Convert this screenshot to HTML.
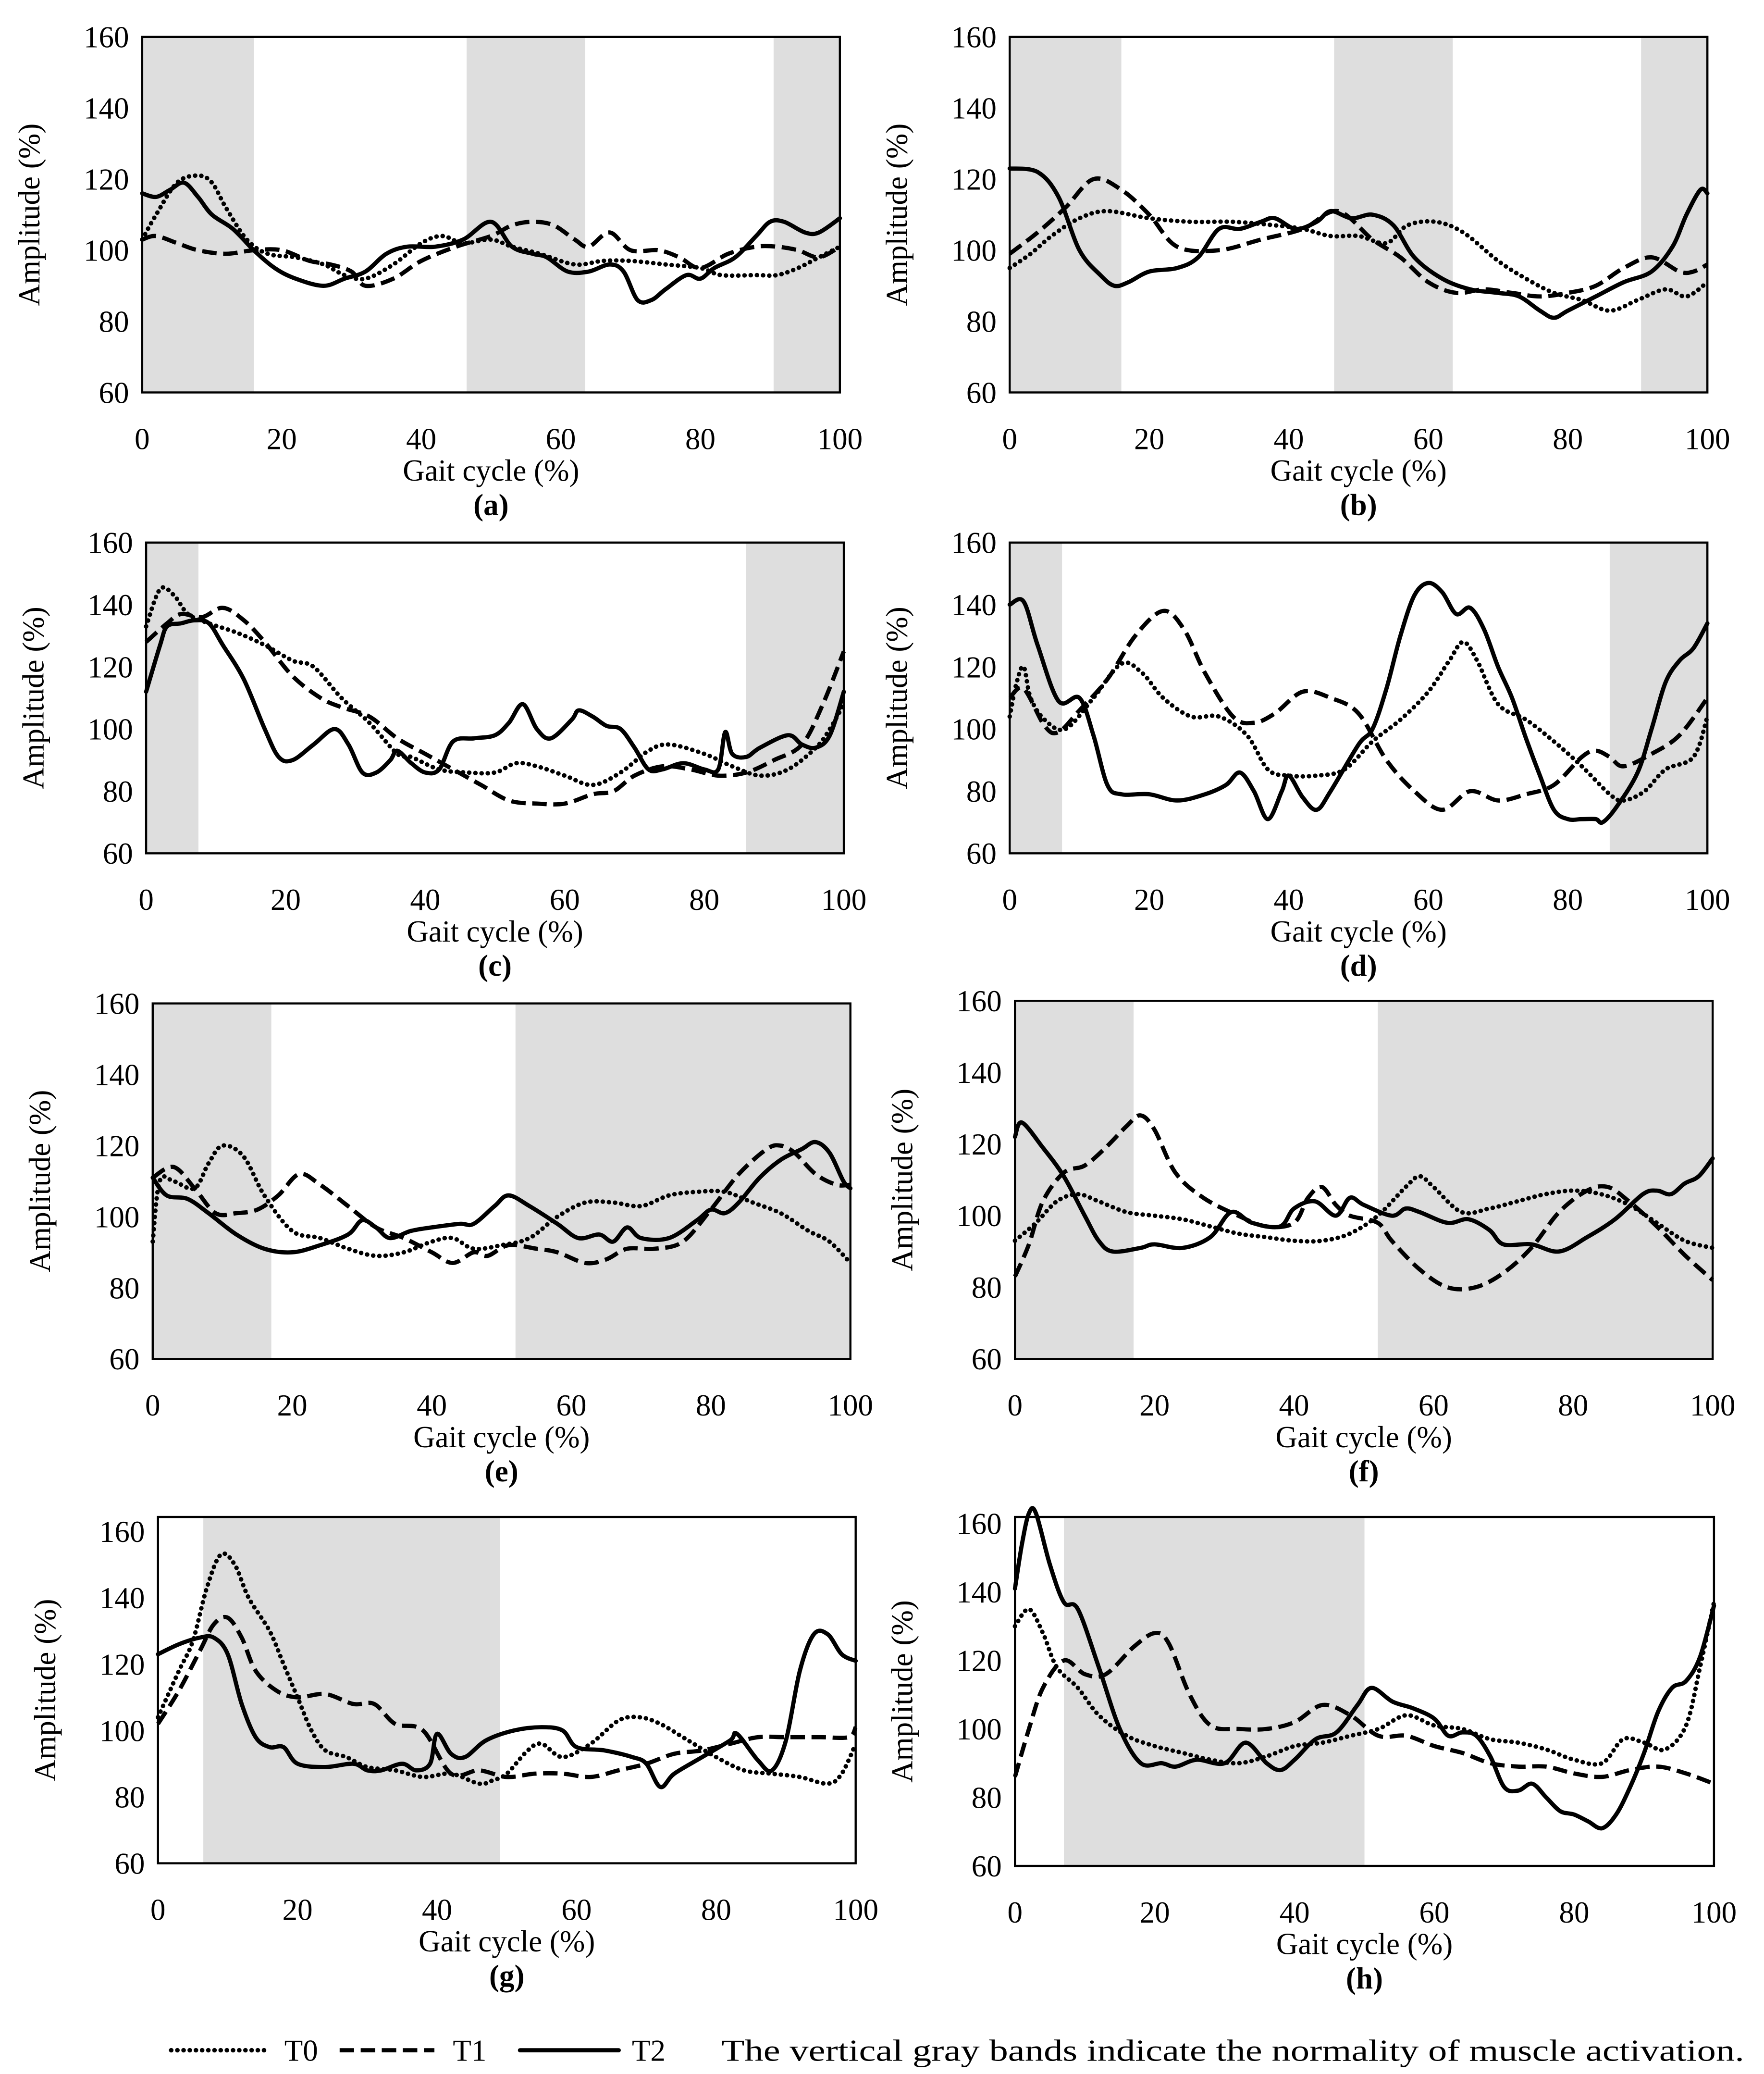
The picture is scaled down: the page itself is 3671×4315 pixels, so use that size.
<!DOCTYPE html>
<html><head><meta charset="utf-8">
<style>
html,body{margin:0;padding:0;background:#fff;}
svg{display:block;}
text{font-family:"Liberation Serif",serif;fill:#000;}
</style></head>
<body>
<svg id="fig" width="3671" height="4315" viewBox="0 0 1340 1575" xmlns="http://www.w3.org/2000/svg"></svg>
<script>
// ---- data ----
const xTicks = [0,20,40,60,80,100];
const yTicks = [60,80,100,120,140,160];
const panelLabels = ["(a)","(b)","(c)","(d)","(e)","(f)","(g)","(h)"];
const bandsA = [[0,16],[46.5,63.5],[90.5,100]];
const bandsB = [[0,16],[46.5,63.5],[90.5,100]];
const bandsC = [[0,7.5],[86,100]];
const bandsD = [[0,7.5],[86,100]];
const bandsE = [[0,17],[52,100]];
const bandsF = [[0,17],[52,100]];
const bandsG = [[6.5,49]];
const bandsH = [[7,50]];

const a_T0 = [[0,103],[2,110],[5,119],[8,121],[10,119],[12,112],[15,103],[18,99],[22,98],[26,96],[29,93],[32,92],[36,96],[40,102],[43,104],[46,102],[50,103],[53,101],[57,99],[62,96],[66,97],[70,97],[75,96],[80,95],[83,93],[88,93],[91,93],[94,95],[97,98],[100,101]];
const a_T1 = [[0,103],[2,104],[5,102],[8,100],[12,99],[16,100],[20,100],[24,97],[27,96],[30,94],[32,90],[36,92],[40,97],[45,101],[50,104],[53,107],[56,108],[59,107],[62,103],[64,101],[67,105],[70,100],[74,100],[77,98],[80,95],[84,99],[88,101],[91,101],[94,100],[97,98],[100,101]];
const a_T2 = [[0,116],[2,115],[4,117],[6,119],[8,115],[10,110],[13,106],[16,100],[19,95],[22,92],[26,90],[29,92],[32,94],[35,99],[38,101],[42,101],[46,103],[50,108],[53,101],[56,99],[58,98],[61,94],[64,94],[67,96],[69,94],[71,86],[73,86],[75,89],[78,93],[80,92],[82,95],[85,98],[88,104],[90,108],[92,108],[95,105],[97,105],[100,109]];

const b_T0 = [[0,95],[3,99],[6,104],[10,109],[14,111],[20,109],[26,108],[32,108],[38,107],[42,106],[46,104],[50,104],[54,102],[57,107],[61,108],[65,105],[70,97],[74,92],[78,88],[82,86],[86,83],[90,86],[94,89],[97,87],[100,91]];
const b_T1 = [[0,99],[4,105],[8,112],[12,120],[16,117],[20,110],[24,101],[30,100],[36,103],[42,106],[47,111],[52,103],[56,98],[60,91],[64,88],[68,89],[72,88],[76,87],[80,88],[84,90],[88,95],[92,98],[96,94],[98,94],[100,96]];
const b_T2 = [[0,123],[4,122],[7,115],[10,100],[13,93],[15,90],[17,91],[20,94],[24,95],[27,98],[30,106],[33,106],[36,108],[38,109],[41,106],[44,108],[46,111],[49,109],[52,110],[55,107],[58,98],[62,92],[66,89],[70,88],[73,87],[76,83],[78,81],[80,83],[84,87],[88,91],[92,94],[95,101],[97,110],[99,117],[100,116]];

const c_T0 = [[0,133],[2,145],[4,143],[6,137],[9,134],[13,131],[17,127],[21,122],[24,120],[28,110],[32,102],[36,92],[38,91],[42,87],[46,86],[50,86],[53,89],[56,88],[60,85],[64,82],[68,86],[72,93],[75,95],[80,92],[84,88],[88,85],[92,87],[96,94],[98,100],[100,108]];
const c_T1 = [[0,128],[3,134],[5,137],[8,136],[11,139],[14,135],[17,128],[21,117],[25,110],[28,107],[32,104],[36,97],[40,92],[44,87],[48,82],[52,77],[56,76],[60,76],[64,79],[67,80],[70,85],[74,88],[78,87],[82,85],[86,86],[90,90],[94,95],[97,108],[100,125]];
const c_T2 = [[0,112],[2,127],[3,133],[5,134],[7,135],[9,134],[11,127],[14,116],[17,100],[19,91],[21,90],[24,95],[27,100],[29,95],[31,86],[33,86],[35,90],[36,93],[38,89],[40,86],[42,87],[44,96],[47,97],[50,98],[52,102],[54,108],[56,100],[58,97],[61,103],[62,106],[64,104],[66,101],[68,100],[70,94],[72,87],[74,87],[77,89],[80,87],[82,87],[83,99],[84,92],[86,91],[88,94],[92,98],[94,95],[96,94],[98,98],[100,112]];

const d_T0 = [[0,104],[1,115],[2,120],[3,110],[5,103],[8,100],[12,110],[16,121],[19,118],[22,110],[26,104],[30,104],[34,98],[37,87],[40,85],[44,85],[48,87],[52,96],[56,103],[60,112],[63,122],[65,128],[67,122],[70,108],[74,103],[78,96],[82,88],[86,79],[88,77],[91,80],[94,87],[98,91],[100,104]];
const d_T1 = [[0,110],[2,113],[5,101],[7,99],[10,106],[14,116],[18,130],[22,138],[25,132],[28,118],[32,104],[35,102],[38,105],[42,112],[46,110],[50,105],[54,90],[58,80],[62,74],[66,80],[70,77],[74,79],[78,82],[82,91],[84,93],[86,91],[88,88],[92,92],[96,98],[100,110]];
const d_T2 = [[0,140],[2,141],[4,127],[7,109],[10,110],[12,98],[14,82],[16,79],[20,79],[24,77],[28,79],[31,82],[33,86],[35,80],[37,71],[39,80],[40,85],[42,78],[44,74],[46,80],[50,95],[52,100],[54,113],[56,130],[58,143],[60,147],[62,144],[64,137],[66,139],[68,132],[70,120],[72,110],[74,97],[76,85],[78,74],[80,71],[82,71],[84,71],[85,70],[87,75],[90,86],[92,100],[94,115],[96,122],[98,126],[100,134]];

const e_T0 = [[0,93],[1,110],[3,110],[6,108],[8,115],[10,120],[13,117],[16,106],[20,96],[24,94],[28,91],[32,89],[36,90],[40,93],[43,94],[46,91],[50,92],[54,94],[58,100],[62,104],[66,104],[70,103],[74,106],[78,107],[82,107],[86,104],[90,101],[94,96],[97,93],[100,87]];
const e_T1 = [[0,111],[3,114],[6,108],[9,101],[12,101],[15,102],[18,106],[21,112],[24,109],[28,103],[32,97],[36,94],[40,90],[43,87],[46,90],[48,89],[51,92],[55,91],[58,90],[62,87],[65,88],[68,91],[72,91],[76,93],[80,102],[84,112],[88,119],[90,120],[92,118],[95,112],[98,109],[100,109]];
const e_T2 = [[0,111],[2,106],[5,105],[8,101],[12,95],[16,91],[20,90],[24,92],[28,95],[30,99],[32,97],[34,94],[37,96],[40,97],[44,98],[46,98],[49,103],[51,106],[54,103],[58,98],[61,94],[64,95],[66,93],[68,97],[70,94],[74,94],[78,99],[80,102],[82,101],[84,104],[87,111],[90,116],[93,119],[95,121],[97,118],[99,110],[100,108]];

const f_T0 = [[0,93],[3,98],[6,104],[9,106],[12,104],[16,101],[20,100],[24,99],[28,97],[32,95],[36,94],[40,93],[44,93],[48,95],[52,100],[56,108],[58,111],[60,108],[64,101],[68,102],[72,104],[76,106],[80,107],[84,106],[88,103],[92,98],[96,93],[100,91]];
const f_T1 = [[0,83],[2,92],[4,104],[7,112],[10,114],[13,119],[16,125],[18,128],[20,124],[23,112],[27,105],[32,100],[36,97],[40,98],[42,105],[44,108],[46,103],[48,100],[52,98],[54,93],[58,85],[62,80],[66,80],[70,84],[74,91],[78,101],[82,107],[85,108],[88,104],[92,97],[96,89],[100,82]];
const f_T2 = [[0,122],[1,126],[4,119],[7,111],[10,100],[12,93],[14,90],[18,91],[20,92],[24,91],[28,94],[31,101],[34,98],[38,97],[40,102],[43,104],[46,100],[48,105],[50,103],[54,100],[56,102],[58,101],[62,98],[65,99],[68,96],[70,92],[74,92],[78,90],[82,94],[86,99],[90,106],[92,107],[94,106],[96,109],[98,111],[100,116]];

const g_T0 = [[0,104],[3,118],[5,127],[7,143],[9,153],[11,150],[13,140],[16,130],[18,120],[20,110],[22,100],[24,94],[27,92],[30,89],[34,88],[38,86],[42,87],[46,84],[48,85],[50,87],[53,94],[55,96],[58,92],[62,96],[66,103],[69,104],[72,102],[76,97],[80,92],[84,88],[88,87],[92,86],[96,84],[98,87],[100,96]];
const g_T1 = [[0,102],[3,112],[6,124],[8,132],[10,134],[12,128],[14,118],[17,112],[20,110],[24,111],[28,108],[31,108],[34,102],[38,100],[42,87],[46,88],[50,86],[54,87],[58,87],[62,86],[66,88],[70,90],[74,93],[78,94],[82,96],[86,98],[90,98],[95,98],[99,98],[100,101]];
const g_T2 = [[0,123],[3,126],[6,128],[8,128],[10,123],[12,108],[14,98],[16,95],[18,95],[20,90],[24,89],[28,90],[30,88],[32,88],[35,90],[37,88],[39,90],[40,99],[42,93],[44,92],[47,97],[51,100],[55,101],[58,100],[60,95],[64,94],[68,92],[70,90],[72,83],[74,87],[78,92],[82,97],[83,99],[86,91],[88,88],[90,97],[92,118],[94,129],[96,129],[98,123],[100,121]];

const h_T0 = [[0,130],[2,135],[4,128],[6,118],[9,112],[12,104],[16,98],[20,95],[24,93],[28,91],[32,90],[36,92],[40,95],[44,96],[48,98],[52,100],[56,104],[60,101],[64,100],[68,97],[72,96],[76,94],[80,91],[84,90],[87,97],[90,96],[93,94],[96,101],[98,118],[100,137]];
const h_T1 = [[0,86],[2,100],[4,112],[7,120],[10,116],[13,116],[17,124],[20,128],[22,125],[25,110],[28,101],[32,100],[36,100],[40,102],[44,107],[48,104],[52,98],[56,98],[60,95],[64,93],[68,90],[72,89],[76,89],[80,87],[84,86],[88,88],[92,89],[96,87],[100,84]];
const h_T2 = [[0,141],[1,154],[2,163],[3,163],[5,148],[7,137],[9,135],[12,118],[15,100],[18,90],[21,90],[23,89],[26,91],[30,90],[33,96],[36,90],[38,88],[40,91],[43,97],[46,99],[49,107],[51,112],[54,108],[57,106],[60,103],[62,98],[64,99],[66,98],[68,92],[70,83],[72,82],[74,84],[76,80],[78,76],[80,75],[82,73],[84,71],[86,75],[88,83],[90,93],[92,105],[94,112],[96,114],[98,121],[100,136]];

// ---- layout ----
const panels = [
 {L:108,R:638,T:28,y160:28,y60:298,bands:bandsA,s:[a_T0,a_T1,a_T2]},
 {L:767,R:1297,T:28,y160:28,y60:298,bands:bandsB,s:[b_T0,b_T1,b_T2]},
 {L:111,R:641,T:412,y160:412,y60:648,bands:bandsC,s:[c_T0,c_T1,c_T2]},
 {L:767,R:1297,T:412,y160:412,y60:648,bands:bandsD,s:[d_T0,d_T1,d_T2]},
 {L:116,R:646,T:762,y160:762,y60:1032,bands:bandsE,s:[e_T0,e_T1,e_T2]},
 {L:771,R:1301,T:760,y160:760,y60:1032,bands:bandsF,s:[f_T0,f_T1,f_T2]},
 {L:120,R:650,T:1152,y160:1163,y60:1415,bands:bandsG,s:[g_T0,g_T1,g_T2]},
 {L:771,R:1302,T:1152,y160:1157,y60:1417,bands:bandsH,s:[h_T0,h_T1,h_T2]}
];
const styles = [
 {dash:"0.1 4.6",cap:"round",w:3.4,name:"t0"},
 {dash:"11 5",cap:"butt",w:3.2,name:"t1"},
 {dash:"",cap:"round",w:3.2,name:"t2"}
];
const NS="http://www.w3.org/2000/svg";
const svg=document.getElementById('fig');
function mk(tag,attrs,parent){const e=document.createElementNS(NS,tag);for(const k in attrs)e.setAttribute(k,attrs[k]);(parent||svg).appendChild(e);return e;}
function smooth(p){let d="M"+p[0][0].toFixed(2)+","+p[0][1].toFixed(2);
 for(let i=0;i<p.length-1;i++){const p0=p[i-1]||p[i],p1=p[i],p2=p[i+1],p3=p[i+2]||p2;
  const c1x=p1[0]+(p2[0]-p0[0])/6,c1y=p1[1]+(p2[1]-p0[1])/6,c2x=p2[0]-(p3[0]-p1[0])/6,c2y=p2[1]-(p3[1]-p1[1])/6;
  d+=" C"+c1x.toFixed(2)+","+c1y.toFixed(2)+" "+c2x.toFixed(2)+","+c2y.toFixed(2)+" "+p2[0].toFixed(2)+","+p2[1].toFixed(2);}
 return d;}

panels.forEach((P,pi)=>{
 const g=mk('g',{});
 
 
 const xs=v=>P.L+(P.R-P.L)*v/100;
 const ys=v=>P.y60-(P.y60-P.y160)*(v-60)/100;
 P.bands.forEach(b=>{const r=mk('rect',{x:xs(b[0]),y:P.T,width:xs(b[1])-xs(b[0]),height:P.y60-P.T,fill:'#dedede'},g);
  
  });
 P.s.forEach((ser,si)=>{const st=styles[si];
  const pts=ser.map(q=>[xs(q[0]),ys(q[1])]);
  const path=mk('path',{d:smooth(pts),fill:'none',stroke:'#000','stroke-width':st.w,'stroke-linecap':st.cap,'stroke-linejoin':'round','stroke-dasharray':st.dash},g);
  
  });
 const box=mk('rect',{x:P.L,y:P.T,width:P.R-P.L,height:P.y60-P.T,fill:'none',stroke:'#000','stroke-width':1.6},g);
 
 
 yTicks.forEach(v=>{const t=mk('text',{x:P.L-10,y:ys(v)+8,'text-anchor':'end','font-size':23},g);t.textContent=v;
  
  });
 xTicks.forEach(v=>{const t=mk('text',{x:xs(v),y:P.y60+43,'text-anchor':'middle','font-size':23},g);t.textContent=v;
  
  });
 const cy=(P.T+P.y60)/2;
 const yt=mk('text',{x:0,y:0,transform:`translate(${P.L-78},${cy}) rotate(-90)`,'text-anchor':'middle','font-size':23},g);yt.textContent='Amplitude (%)';
 
 
 const xt=mk('text',{x:(P.L+P.R)/2,y:P.y60+67,'text-anchor':'middle','font-size':23},g);xt.textContent='Gait cycle (%)';
 
 
 const cap=mk('text',{x:(P.L+P.R)/2,y:P.y60+93,'text-anchor':'middle','font-size':23,'font-weight':'bold'},g);cap.textContent=panelLabels[pi];
 
 
});

// legend
const lg=mk('g',{});


const legendItems=[[130,205,216,'T0'],[258,330,344,'T1'],[395,470,480,'T2']];
legendItems.forEach((it,i)=>{const st=styles[i];
 const l=mk('line',{x1:it[0],x2:it[1],y1:1557,y2:1557,stroke:'#000','stroke-width':st.w,'stroke-linecap':st.cap,'stroke-dasharray':st.dash},lg);
 
 
 const t=mk('text',{x:it[2],y:1565,'font-size':23},lg);t.textContent=it[3];
 
 });
const note=mk('text',{x:548,y:1565,'font-size':23,textLength:777,lengthAdjust:'spacingAndGlyphs'},lg);note.textContent='The vertical gray bands indicate the normality of muscle activation.';


</script>
</body></html>
